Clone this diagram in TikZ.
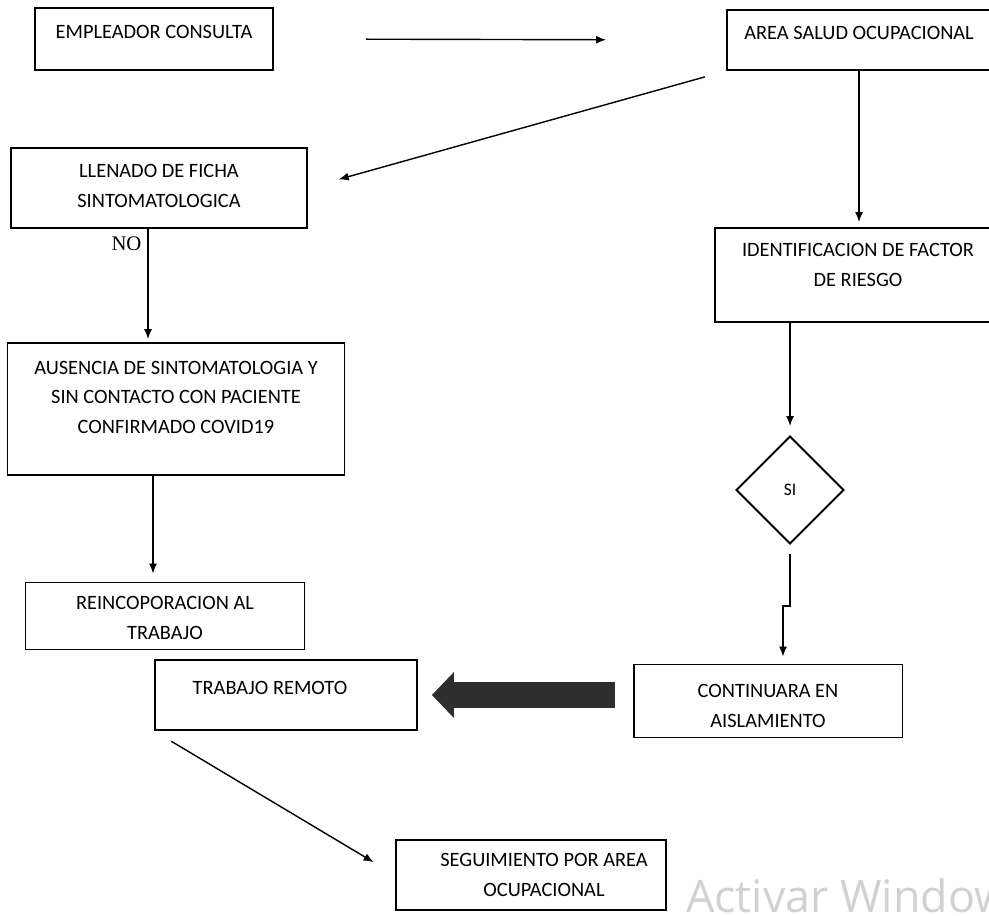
\documentclass[tikz,border=0pt]{standalone}
\usepackage{fontspec}
\setmainfont{Carlito}
\newfontfamily\serifno{Liberation Serif}
\newfontfamily\marcaagua{Open Sans}
\usetikzlibrary{arrows.meta,shapes.geometric}

\begin{document}
\begin{tikzpicture}[x=0.02cm,y=-0.02cm,
		caja/.style={draw, line width=1.1pt, inner sep=0pt},
		every label/.style={align=center, font=\fontsize{11.6}{16.8}\selectfont, inner sep=0pt},
		flecha/.style={line width=0.8pt, -{Latex[length=2mm,width=1.6mm]}},
		gruesa/.style={line width=0.52cm, draw=black!82, -{Triangle[length=0.44cm,width=0.92cm,line width=0pt]}}]
	\useasboundingbox (0,0) rectangle (989,915);
	\clip (0,0) rectangle (989,915);
	\node[caja, minimum width=4.76cm, minimum height=1.24cm, label={[yshift=0.14cm]center:EMPLEADOR CONSULTA}] (empleador) at (154,39) {};
	\node[caja, minimum width=5.28cm, minimum height=1.2cm, label={[yshift=0.14cm]center:AREA SALUD OCUPACIONAL}] (area) at (859,40) {};
	\node[caja, minimum width=5.92cm, minimum height=1.6cm, label={[yshift=0.04cm]center:{LLENADO DE FICHA\\SINTOMATOLOGICA}}] (llenado) at (159,188) {};
	\node[caja, minimum width=5.52cm, minimum height=1.88cm, label={[xshift=0.1cm,yshift=0.2cm]center:{IDENTIFICACION DE FACTOR\\DE RIESGO}}] (ident) at (853,275) {};
	\node[caja, minimum width=6.74cm, minimum height=2.64cm, label={[yshift=0.24cm]center:{AUSENCIA DE SINTOMATOLOGIA Y\\SIN CONTACTO CON PACIENTE\\CONFIRMADO COVID19}}] (ausencia) at (176,409) {};
	\node[draw, diamond, aspect=1, minimum size=2.16cm, line width=1.1pt, inner sep=0pt, font=\fontsize{10}{12}\selectfont] (si) at (790,490) {SI};
	\node[caja, minimum width=5.58cm, minimum height=1.34cm, label={[yshift=-0.04cm]center:{REINCOPORACION AL\\TRABAJO}}] (reincop) at (165,616) {};
	\node[caja, minimum width=5.24cm, minimum height=1.4cm, label={[xshift=-0.32cm,yshift=0.14cm]center:TRABAJO REMOTO}] (remoto) at (286,695) {};
	\node[caja, minimum width=5.38cm, minimum height=1.46cm, label={[yshift=-0.1cm]center:{CONTINUARA EN\\AISLAMIENTO}}] (continuara) at (768,701) {};
	\node[caja, minimum width=5.4cm, minimum height=1.4cm, label={[xshift=0.26cm]center:{SEGUIMIENTO POR AREA\\OCUPACIONAL}}] (seguimiento) at (531,875) {};
	\coordinate (nobajada) at ([xshift=-0.22cm]llenado.south);
	\coordinate (ausbajada) at ([xshift=-0.46cm]ausencia.south);
	\draw[flecha, shorten <=1.84cm, shorten >=2.4cm] (empleador.east) -- (area.west);
	\draw[flecha, shorten <=0.44cm, shorten >=0.64cm] (area.south west) -- (llenado.east);
	\draw[flecha, shorten >=0.1cm] (area.south) -- (area.south |- ident.north);
	\draw[flecha, shorten >=0.06cm] (nobajada) -- (nobajada |- ausencia.north) node[pos=0.13, left, font=\serifno\fontsize{11.8}{14}\selectfont] {NO};
	\draw[flecha, shorten >=0.18cm] (ident.south -| si.north) -- (si.north);
	\draw[flecha, shorten <=0.18cm, shorten >=0.14cm] (si.south) -- ++(0,61) -| ([xshift=0.3cm]continuara.north);
	\draw[flecha, shorten >=0.16cm] (ausbajada) -- (ausbajada |- reincop.north);
	\draw[gruesa, shorten <=0.36cm, shorten >=0.28cm] (remoto.east -| continuara.west) -- (remoto.east);
	\draw[flecha, shorten <=0.4cm, shorten >=0.5cm] (remoto.south west) -- (seguimiento.west);
	\node[anchor=base west, text=black!18, font=\marcaagua\fontsize{25.5}{30}\selectfont] (marca) at (680,912) {Activar Windows};
\end{tikzpicture}
\end{document}
